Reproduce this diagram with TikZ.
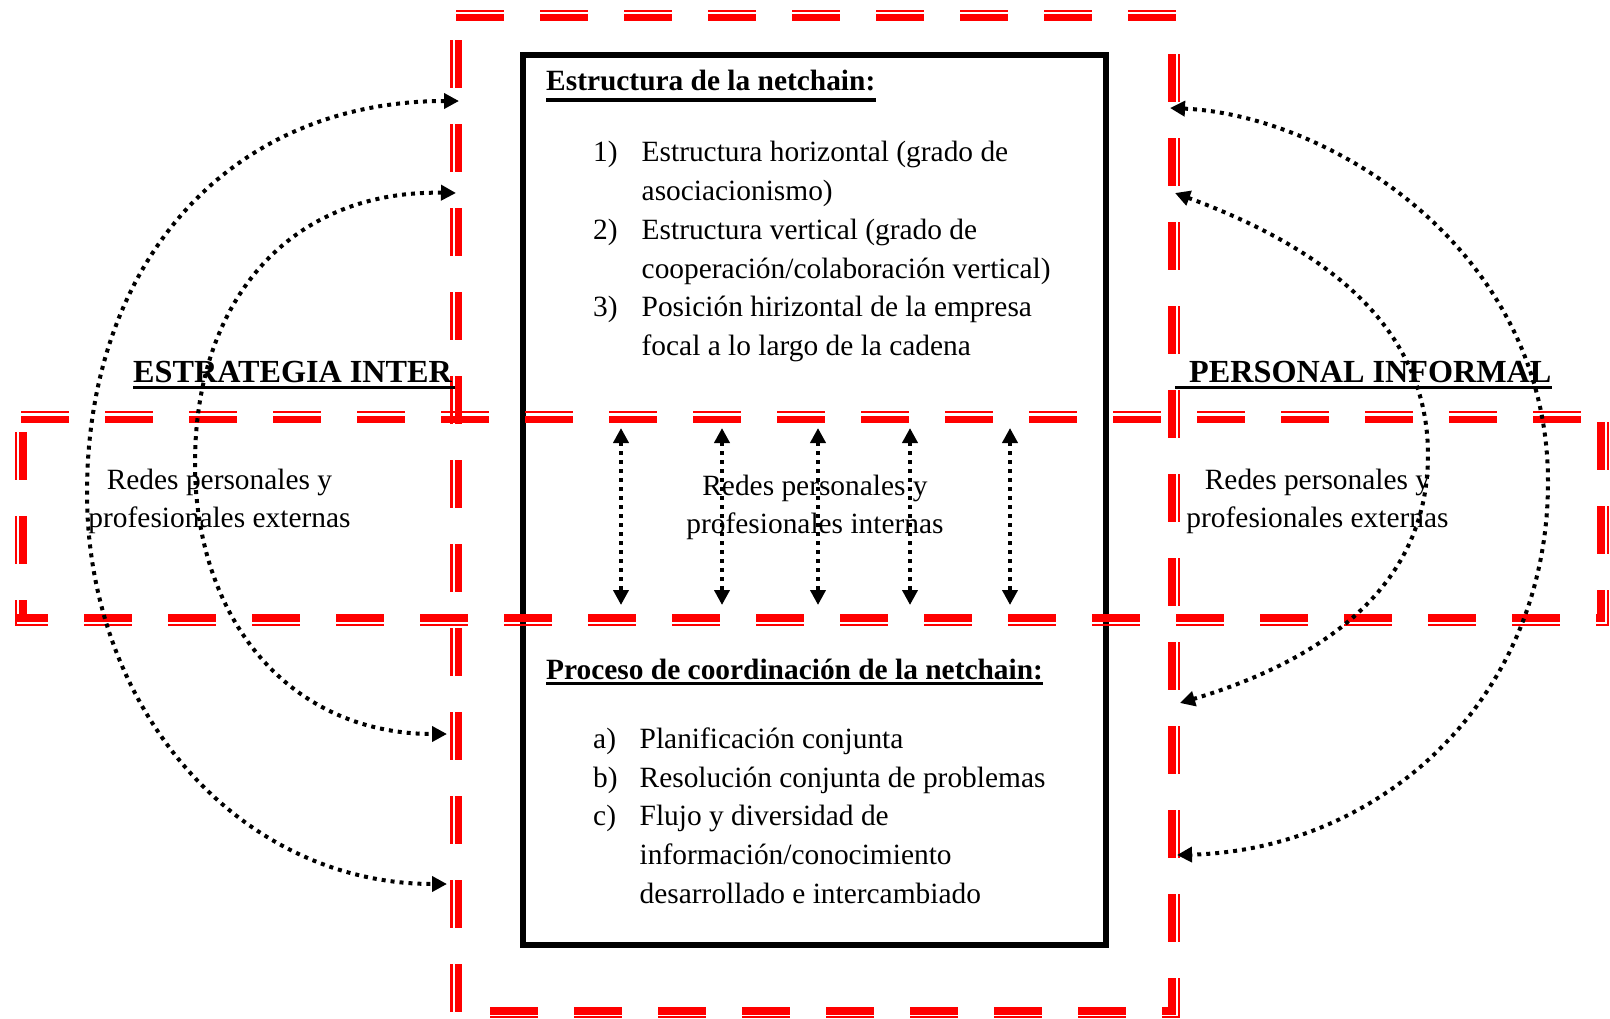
\documentclass[tikz,border=0pt]{standalone}
\usepackage{fontspec}
\setmainfont{Liberation Serif}
\usetikzlibrary{arrows.meta}
\begin{document}
\begin{tikzpicture}[x=1pt,y=-1pt,
  thinred/.style={draw=red, line width=2.4pt, dash pattern=on 48pt off 36pt},
  thickred/.style={draw=red, line width=7.5pt, dash pattern=on 48pt off 36pt},
  boxline/.style={draw=black, line width=6pt},
  uline/.style={draw=black, line width=3.3pt},
  dotarrow/.style={draw=black, line width=4pt, dash pattern=on 4pt off 5pt,
     {Triangle[length=15pt,width=15pt]}-{Triangle[length=15pt,width=15pt]}},
  txt/.style={inner sep=0pt, font=\fontsize{29.4}{38.8}\selectfont},
  bigtxt/.style={inner sep=0pt, font=\fontsize{32.2}{38}\selectfont\bfseries}
]
\useasboundingbox (0,0) rectangle (1610,1018);

% central black box
\draw[boxline] (523,55) rectangle (1106,945);

% tall red frame (thin outside, thick inside)
\draw[thinred]  (456,11.2) -- (1180,11.2);
\draw[thickred] (456,17.5) -- (1176,17.5);
\draw[thickred] (1172,54) -- (1172,1015);
\draw[thinred]  (1179,54) -- (1179,1018);
\draw[thickred] (490,1011) -- (1176,1011);
\draw[thinred]  (490,1017) -- (1180,1017);
\draw[thinred]  (451.5,40) -- (451.5,1012);
\draw[thickred] (458.5,40) -- (458.5,1012);

% horizontal red band
\draw[thinred]  (21,412) -- (1605,412);
\draw[thickred] (21,419.5) -- (1597,419.5);
\draw[thinred]  (16,432) -- (16,626);
\draw[thickred] (23,432) -- (23,622);
\draw[thickred, dash phase=16pt] (16,618) -- (1605,618);
\draw[thinred, dash phase=16pt]  (16,625) -- (1609,625);
\draw[thickred] (1601,422) -- (1601,622);
\draw[thinred]  (1608,422) -- (1608,626);

% end points of connectors
\coordinate (lot) at (459,101);  \coordinate (lob) at (447,884);
\coordinate (lit) at (456,193);  \coordinate (lib) at (447,734);
\coordinate (rot) at (1170,108); \coordinate (rob) at (1177,855);
\coordinate (rit) at (1175,193); \coordinate (rib) at (1180,703);
\foreach \n/\x in {1/621,2/722,3/818,4/910,5/1010}{
  \coordinate (v\n t) at (\x,428);
  \coordinate (v\n b) at (\x,605);
}

% curved arrows
\draw[dotarrow] (lot) .. controls (230,101) and (87,262) .. (87,493)
                      .. controls (87,710) and (240,884) .. (lob);
\draw[dotarrow] (lit) .. controls (290,190) and (195,300) .. (195,463)
                      .. controls (195,620) and (290,734) .. (lib);
\draw[dotarrow] (rot) .. controls (1330,115) and (1548,250) .. (1548,482)
                      .. controls (1548,700) and (1380,850) .. (rob);
\draw[dotarrow] (rit) .. controls (1330,250) and (1428,330) .. (1428,455)
                      .. controls (1428,575) and (1340,655) .. (rib);

% vertical arrows
\foreach \n in {1,...,5}{
  \draw[dotarrow] (v\n t) -- (v\n b);
}

% texts in the box
\node[txt, anchor=base west] (h1) at (546,90.7) {\bfseries Estructura de la netchain:};
\draw[uline] (h1.base west |- 0,100) -- (h1.base east |- 0,100);
\node[txt, anchor=base west] (l1) at (593,161.7) {\begin{tabular}[t]{@{}l@{}l@{}}
\makebox[48.5pt][l]{1)} & Estructura horizontal (grado de\\
 & asociacionismo)\\
\makebox[48.5pt][l]{2)} & Estructura vertical (grado de\\
 & cooperación/colaboración vertical)\\
\makebox[48.5pt][l]{3)} & Posición hirizontal de la empresa\\
 & focal a lo largo de la cadena
\end{tabular}};

\node[txt, anchor=base west] (h2) at (546,679) {\bfseries Proceso de coordinación de la netchain:};
\draw[uline] (h2.base west |- 0,683.5) -- (h2.base east |- 0,683.5);
\node[txt, anchor=base west] (l2) at (593,748.3) {\begin{tabular}[t]{@{}l@{}l@{}}
\makebox[46.5pt][l]{a)} & Planificación conjunta\\
\makebox[46.5pt][l]{b)} & Resolución conjunta de problemas\\
\makebox[46.5pt][l]{c)} & Flujo y diversidad de\\
 & información/conocimiento\\
 & desarrollado e intercambiado
\end{tabular}};

% band texts
\node[txt, anchor=base] (tl) at (219.5,489) {\begin{tabular}[t]{@{}c@{}}Redes personales y\\ profesionales externas\end{tabular}};
\node[txt, anchor=base] (tm) at (815,495) {\begin{tabular}[t]{@{}c@{}}Redes personales y\\ profesionales internas\end{tabular}};
\node[txt, anchor=base] (tr) at (1317.5,489) {\begin{tabular}[t]{@{}c@{}}Redes personales y\\ profesionales externas\end{tabular}};

% side headings
\node[bigtxt, anchor=base west] (sl) at (133,382) {ESTRATEGIA INTER};
\draw[uline] (sl.base west |- 0,387.5) -- (455,387.5);
\node[bigtxt, anchor=base west] (sr) at (1189,382) {PERSONAL INFORMAL};
\draw[uline] (1175,387.5) -- (sr.base east |- 0,387.5);
\end{tikzpicture}
\end{document}
